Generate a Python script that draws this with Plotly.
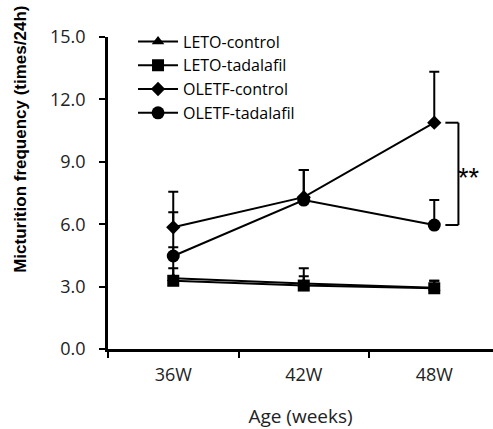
import plotly.graph_objects as go

weeks = ["36W", "42W", "48W"]
leto_control = [3.40, 3.15, 2.95]
leto_control_err = [1.49, 0.73, 0.33]
leto_tadalafil = [3.28, 3.05, 2.92]
leto_tadalafil_err = [0.60, 0.45, 0.36]
oletf_control = [5.85, 7.30, 10.88]
oletf_control_err = [1.71, 1.30, 2.45]
oletf_tadalafil = [4.47, 7.16, 5.96]
oletf_tadalafil_err = [2.10, 1.44, 1.20]

y_ticks = [0, 3, 6, 9, 12, 15]

series = [
    ("LETO-control", leto_control, leto_control_err, "triangle-up", 11),
    ("LETO-tadalafil", leto_tadalafil, leto_tadalafil_err, "square", 12),
    ("OLETF-control", oletf_control, oletf_control_err, "diamond", 11),
    ("OLETF-tadalafil", oletf_tadalafil, oletf_tadalafil_err, "circle", 13),
]

fig = go.Figure()
for name, vals, errs, sym, sz in series:
    fig.add_trace(go.Scatter(
        x=weeks, y=vals, name=name, mode="lines+markers",
        line=dict(color="black", width=2),
        marker=dict(symbol=sym, size=sz, color="black"),
        error_y=dict(type="data", array=errs, symmetric=False, arrayminus=[0, 0, 0],
                     color="black", thickness=2, width=5),
    ))

# significance bracket at 48W between OLETF-control and OLETF-tadalafil
top = oletf_control[2]
bot = oletf_tadalafil[2]
bx0, bx1 = 2.085, 2.185
for y0, y1, x0, x1 in [(top, top, bx0, bx1), (bot, bot, bx0, bx1), (bot, top, bx1, bx1)]:
    fig.add_shape(type="line", xref="x", yref="y", x0=x0, x1=x1, y0=y0, y1=y1,
                  line=dict(color="black", width=2))
fig.add_annotation(xref="x", yref="y", x=bx1, y=(top + bot) / 2, text="**",
                   showarrow=False, xanchor="left", yanchor="middle", xshift=-2, yshift=-4,
                   font=dict(family="Liberation Sans", size=27, color="black"))

fig.add_annotation(xref="paper", yref="paper", x=-0.229, y=0.673,
                   text="<b>Micturition frequency (times/24h)</b>", textangle=-90,
                   showarrow=False, xanchor="center", yanchor="middle",
                   font=dict(family="Liberation Sans", size=17, color="black"))

fig.update_layout(
    width=493, height=429,
    margin=dict(l=108, r=0, t=37, b=80),
    plot_bgcolor="white", paper_bgcolor="white",
    showlegend=True,
    legend=dict(x=0.065, y=1.04, xanchor="left", yanchor="top",
                font=dict(family="Open Sans", size=16, color="black"),
                bgcolor="rgba(0,0,0,0)", itemwidth=40, tracegroupgap=0),
    xaxis=dict(
        type="category", range=[-0.5, 2.45],
        showline=True, linecolor="black", linewidth=2.5,
        ticks="outside", tickson="boundaries", ticklen=6, tickwidth=2, tickcolor="black",
        tickfont=dict(family="Open Sans", size=18, color="#222"),
        ticklabelstandoff=8,
        showgrid=False, zeroline=False,
        title=dict(text="Age (weeks)", font=dict(family="Open Sans", size=19, color="#222"),
                   standoff=27),
    ),
    yaxis=dict(
        range=[0, 15], tickvals=y_ticks, tickformat=".1f",
        showline=True, linecolor="black", linewidth=2.5,
        ticks="outside", ticklen=6, tickwidth=2, tickcolor="black",
        tickfont=dict(family="Open Sans", size=18, color="#222"),
        ticklabelstandoff=10,
        showgrid=False, zeroline=False,
    ),
)

fig.write_html("out.html")
